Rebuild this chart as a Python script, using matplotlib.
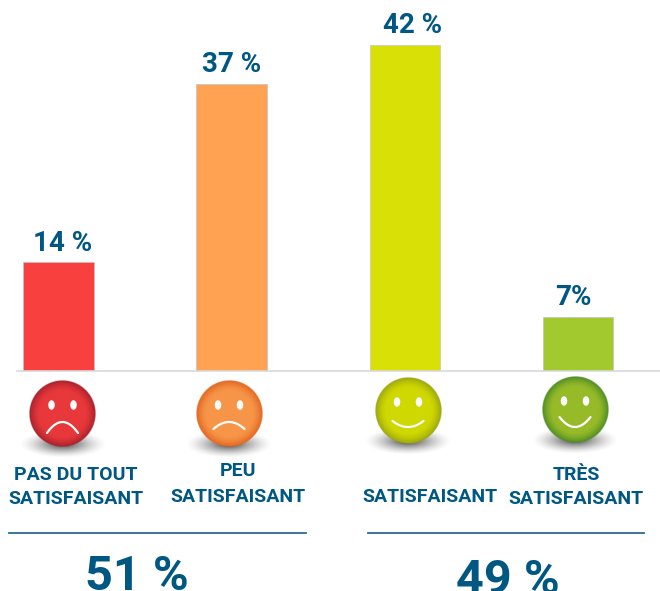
# Satisfaction bar chart with smiley faces under each bar
import numpy as np
import matplotlib
matplotlib.use("Agg")
import matplotlib.pyplot as plt
from matplotlib.patches import Ellipse

# Data
categories = ["PAS DU TOUT\nSATISFAISANT", "PEU\nSATISFAISANT", "SATISFAISANT", "TRÈS\nSATISFAISANT"]
values = [14, 37, 42, 7]
value_labels = ["14 %", "37 %", "42 %", "7%"]
bar_colors = ["#f8413f", "#ffa252", "#d9e005", "#a2c92d"]
totals = ["51 %", "49 %"]

# Styling and layout, in reference pixels
W, H = 660, 591
BLUE = "#005782"
FONT = "Roboto"
BASE_Y = 371
PX_PER_PCT = 7.77
FIRST_X, STEP_X, BAR_W = 58.4, 173.2, 70.5

label_dx = [4, 0, 8, -5]
label_pos = [(76, 475.5, 499.5), (238, 471.5, 496.5), (430, None, 496.5), (576, 475.5, 499.5)]
total_pos = [(137, 590), (508, 594)]
rule_pos = [(9, 306), (368, 644)]

# (cx, cy, r, centre colour, rim colour, mouth end dy, mouth mid dy)
faces = [
    (62.5, 414, 33.5, "#e8383b", "#a3202b", 19, 8),
    (229, 414, 33.5, "#f79548", "#e0641f", 15, 8),
    (408, 411, 33.5, "#cfd800", "#98a312", 10, 16),
    (575, 410, 33.5, "#97bb28", "#4a8a25", 7, 17),
]


def to_rgb(hex_color):
    return np.array(matplotlib.colors.to_rgb(hex_color))


def draw_face(ax, cx, cy, r, inner, outer, mouth_end, mouth_mid):
    # soft shadow centred on the bottom of the ball
    xs = np.linspace(-1, 1, 160)
    gx, gy = np.meshgrid(xs, xs)
    rr = np.sqrt(gx**2 + gy**2)
    shadow = np.zeros(gx.shape + (4,))
    shadow[..., :3] = 0.2
    shadow[..., 3] = np.clip(1 - rr, 0, 1) ** 1.5 * 0.95
    ax.imshow(shadow, extent=(cx - 44, cx + 44, cy + 44, cy + 16),
              aspect="auto", zorder=2, interpolation="bilinear")

    # ball with radial shading
    gx, gy = np.meshgrid(np.linspace(-1, 1, 200), np.linspace(-1, 1, 200))
    rr = np.sqrt(gx**2 + gy**2)
    t = np.clip((rr - 0.68) / 0.32, 0, 1) ** 1.5
    ball = np.zeros(gx.shape + (4,))
    ball[..., :3] = (1 - t[..., None]) * to_rgb(inner) + t[..., None] * to_rgb(outer)
    ball[..., 3] = np.clip((1 - rr) * 60, 0, 1)
    ax.imshow(ball, extent=(cx - r, cx + r, cy + r, cy - r),
              aspect="auto", zorder=3, interpolation="bilinear")

    # eyes and mouth
    for side in (-1, 1):
        ax.add_patch(Ellipse((cx + side * 11, cy - 9), 6.5, 9.5, fc="white", ec="none", zorder=4))
    s = np.linspace(-1, 1, 40)
    ax.plot(cx + 15.5 * s, cy + mouth_end + (mouth_mid - mouth_end) * (1 - s**2),
            color="white", lw=1.6, solid_capstyle="round", zorder=4)


def main():
    plt.rcParams["font.family"] = [FONT, "DejaVu Sans"]
    fig = plt.figure(figsize=(W / 100, H / 100), dpi=100)

    # Pixel-space overlay for rules, faces and text
    over = fig.add_axes([0, 0, 1, 1], zorder=2)
    over.set_xlim(0, W)
    over.set_ylim(H, 0)
    over.axis("off")

    # Bar axes: x is the category index, y is the percentage
    ax = fig.add_axes([0, 1 - BASE_Y / H, 1, BASE_Y / H], zorder=1)
    ax.set_xlim(-FIRST_X / STEP_X, (W - FIRST_X) / STEP_X)
    ax.set_ylim(0, BASE_Y / PX_PER_PCT)
    ax.axis("off")

    pos = np.arange(len(values))
    ax.bar(pos, values, width=BAR_W / STEP_X, color=bar_colors, edgecolor="#c4c4c4", linewidth=0.5)

    for i, (val, txt) in enumerate(zip(values, value_labels)):
        ax.annotate(txt, (i, val), xytext=(label_dx[i] * 0.72, 4), textcoords="offset points",
                    ha="center", va="bottom", color=BLUE, fontsize=20, fontweight="bold")

    over.plot([17, W], [BASE_Y, BASE_Y], color="#d9d9d9", lw=1.2, zorder=1)

    for face in faces:
        draw_face(over, *face)
    over.set_xlim(0, W)
    over.set_ylim(H, 0)

    for name, (x, y1, y2) in zip(categories, label_pos):
        parts = name.split("\n")
        if len(parts) == 2:
            over.text(x, y1, parts[0], ha="center", va="center", color=BLUE, fontsize=14, fontweight="bold")
        over.text(x, y2, parts[-1], ha="center", va="center", color=BLUE, fontsize=14, fontweight="bold")

    for x0, x1 in rule_pos:
        over.plot([x0, x1], [533, 533], color="#2b6c93", lw=1.3)

    for txt, (x, y) in zip(totals, total_pos):
        over.text(x, y, txt, ha="center", va="baseline", color=BLUE, fontsize=35, fontweight="bold")

    fig.savefig("out.png", dpi=100)


if __name__ == "__main__":
    main()
